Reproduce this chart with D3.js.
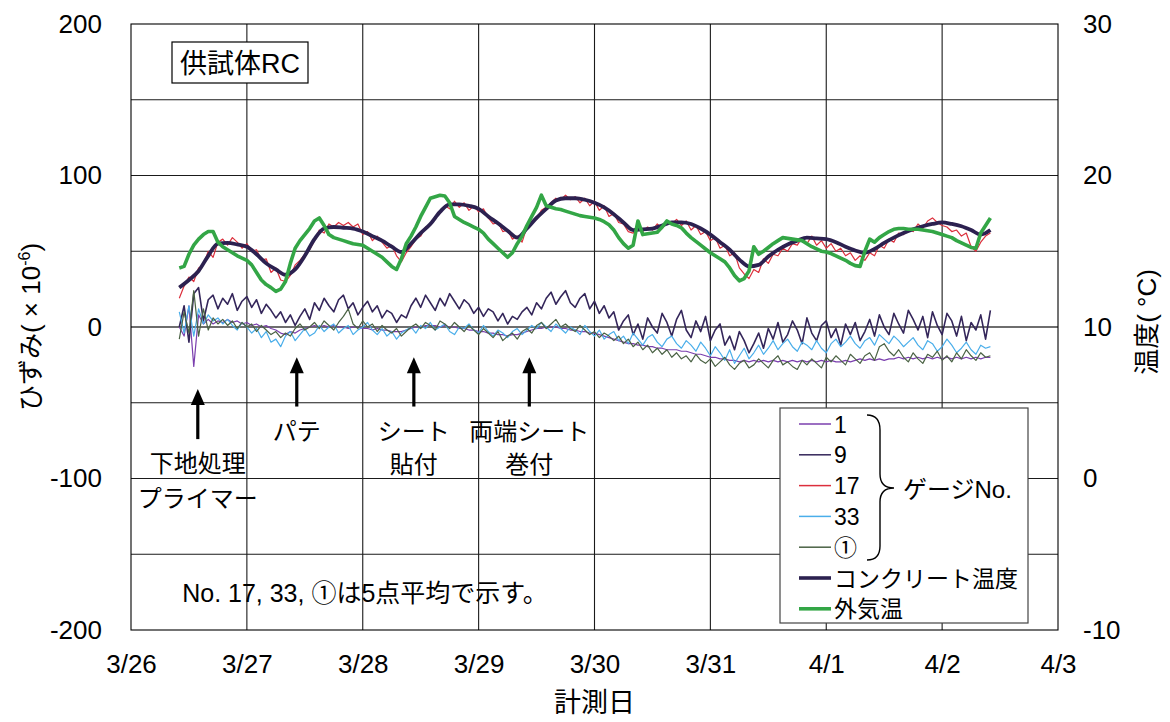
<!DOCTYPE html>
<html><head><meta charset="utf-8">
<script src="https://cdn.jsdelivr.net/npm/d3@7"></script>
<style>
body{margin:0;background:#fff;}
svg{display:block;font-family:"Liberation Sans",Arial,"Noto Sans CJK JP",sans-serif;}
</style></head><body>
<svg id="c" width="1170" height="722"></svg>
<script>
// ---------------- DATA ----------------
// strain gauges: hourly readings starting 3/26 10:00 (x10^-6)
const strainStart = new Date(2011, 2, 26, 10, 0);
const strainStepHours = 1;
const gauge1 = [0,-6,14,-26,8,2,5,2,4,3, 5,3,4,2,3,1,2,0,1,-1, -2,-4,-5,-3,-4,-2,-1,0,1,0,
 1,0,1,0,0,-1,0,0,-1,-1, -2,-1,-2,-2,-3,-3,-3,-2,-1,0, 0,1,1,1,0,1,0,0,-1,-1,
 -2,-2,-3,-3,-4,-4,-5,-5,-6,-5, -5,-4,-3,-2,-1,-1,0,0,0,-1, -1,-2,-2,-3,-3,-4,-4,-5,-6,-7,
 -8,-9,-10,-11,-11,-12,-12,-13,-13,-14, -14,-15,-15,-15,-16,-16,-17,-18,-18,-19,
 -20,-20,-21,-21,-22,-22,-23,-22,-23,-22, -23,-22,-23,-22,-23,-22,-23,-22,-23,-22,
 -23,-22,-23,-22,-23,-22,-23,-23,-22,-23, -22,-21,-22,-21,-22,-21,-22,-21,-21,-20,
 -21,-20,-21,-20,-21,-20,-21,-20,-21,-20, -21,-20,-21,-20,-21,-20,-21,-20,-20];
const gauge9 = [0,14,-10,22,26,4,18,21,12,19, 15,22,11,17,20,13,18,9,15,11, 6,10,3,8,1,7,12,5,16,11,
 19,14,10,18,21,12,16,8,13,17, 10,14,6,11,9,3,8,6,14,19, 13,21,16,11,19,14,22,17,12,18,
 15,9,13,7,12,10,4,9,2,7, 5,10,13,8,16,12,19,23,15,20, 24,16,13,19,22,12,17,9,14,6,
 10,-2,4,8,-5,2,-8,6,0,-4, 9,3,-6,5,11,-2,-7,4,-3,7, -9,-2,2,-12,-6,-15,-3,-9,-17,-11,
 -4,-14,-1,-8,3,-10,-5,4,-2,-11, 6,-4,-9,1,4,-7,-1,-12,2,-5, 3,-9,-3,5,-6,8,0,-5,9,2,
 -4,11,5,-2,7,-7,10,1,-5,9, 4,-6,7,-9,3,-2,8,-8,11];
const gauge17 = [19,27,33,30,39,41,50,46,56,58, 54,59,56,52,55,50,51,44,45,36, 39,31,30,34,41,44,48,51,57,64,
 62,68,66,69,67,69,66,68,61,63, 57,60,56,52,54,47,43,49,53,58, 60,66,67,73,75,80,78,83,79,82,
 77,80,76,78,72,68,69,63,64,58, 60,56,66,70,71,77,79,82,85,84, 87,84,86,82,85,80,83,77,80,73,
 75,69,68,63,62,66,63,66,64,68, 65,69,68,71,67,70,64,67,61,63, 57,59,52,54,47,49,39,35,32,38,
 36,45,42,48,47,52,50,55,54,59, 55,60,54,57,52,55,50,52,47,49, 44,47,44,49,47,54,52,58,56,62,
 61,65,63,68,65,70,72,69,67,66, 63,64,60,62,53,50,56,60,62];
const gauge33 = [10,-4,14,-6,12,2,8,4,6,2, 5,1,-2,3,0,-4,-1,-7,-3,-10, -8,-13,-6,-3,-9,-5,-1,-6,-4,1,
 -3,0,2,-4,-1,1,-5,-2,0,3, -2,-5,-1,-6,-3,-8,-4,-2,0,-4, 1,-1,3,-2,0,2,-3,-5,0,-1,
 2,-2,-4,1,-3,-6,-2,-4,-7,-3, -1,-5,-2,1,-1,3,0,-3,2,-1, -4,0,-2,-5,1,-3,-6,-2,-8,-5,
 -3,-9,-6,-11,-4,-8,-12,-7,-5,-10, -13,-8,-6,-11,-14,-9,-12,-16,-10,-14, -19,-13,-17,-22,-15,-24,-19,-14,-21,-17,
 -12,-18,-14,-9,-15,-11,-8,-13,-16,-10, -12,-15,-9,-14,-17,-11,-8,-13,-10,-6, -11,-14,-9,-7,-12,-5,-8,-11,-6,-9,
 -13,-10,-7,-12,-15,-9,-11,-16,-13,-8, -12,-17,-14,-10,-15,-18,-12,-14,-13];
const gaugeC1 = [-8,10,-4,24,-6,12,-2,6,2,5, 1,4,-1,3,0,2,-3,1,-2,-5, -3,-7,-4,-6,-1,2,-2,0,3,-1,
 4,1,-2,3,7,12,2,-1,4,0, 2,-3,1,-2,-4,-1,-6,-3,0,2, -1,3,1,-2,4,2,-1,3,0,-3,
 1,-2,-5,-1,-4,-7,-3,-9,-6,-4, -8,-3,-1,-4,1,3,-1,2,5,0, 2,-1,-3,1,-2,-5,-3,-7,-4,-6,
 -9,-6,-11,-8,-13,-10,-15,-12,-17,-14, -18,-15,-20,-17,-21,-19,-23,-18,-22,-24, -21,-26,-23,-20,-25,-28,-24,-22,-27,-25,
 -21,-24,-27,-22,-19,-25,-23,-26,-28,-22, -25,-21,-24,-27,-20,-23,-19,-22,-25,-18, -21,-24,-19,-17,-22,-13,-11,-16,-19,-15,
 -20,-23,-17,-21,-24,-18,-20,-16,-22,-19, -23,-17,-21,-15,-19,-22,-17,-20,-19];
// outside air temperature, hourly from 3/26 10:00 (°C)
const airTemp = [13.9,14.0,14.8,15.4,15.8,16.1,16.3,16.3,15.6,15.3, 15.1,14.9,14.7,14.55,14.4,14.1,13.6,13.1,12.8,12.6,
 12.35,12.5,13.0,14.2,15.2,15.7,16.1,16.5,17.0,17.2, 16.7,16.1,15.9,15.8,15.7,15.6,15.5,15.45,15.4,15.2,
 15.0,14.8,14.6,14.3,14.0,13.8,14.5,15.5,16.0,16.6, 17.3,17.9,18.5,18.6,18.7,18.65,18.2,17.3,17.1,16.9,
 16.75,16.6,16.45,16.2,15.8,15.5,15.2,14.9,14.6,14.9, 15.5,16.0,16.7,17.3,17.9,18.7,18.0,17.9,17.8,17.75,
 17.65,17.55,17.45,17.35,17.3,17.25,17.2,17.1,16.95,16.75, 16.4,15.9,15.5,15.2,15.4,17.0,16.1,16.15,16.2,16.25,
 16.6,17.0,16.8,16.7,16.55,16.2,15.9,15.65,15.4,15.15, 14.9,14.7,14.5,14.3,13.9,13.4,13.05,13.2,13.7,15.3,
 14.8,15.0,15.25,15.5,15.7,15.9,15.85,15.8,15.75,15.7, 15.5,15.3,15.15,15.0,14.95,14.85,14.7,14.55,14.4,14.2,
 14.05,14.0,15.0,15.8,15.6,15.9,16.1,16.3,16.45,16.5, 16.5,16.45,16.45,16.45,16.4,16.35,16.3,16.2,16.1,16.0,
 15.9,15.7,15.55,15.4,15.25,15.2,16.2,16.7,17.2];
// concrete temperature, every 2 hours from 3/26 10:00 (°C)
const concreteStepHours = 2;
const concreteTemp = [12.6,13.1,13.7,14.7,15.5,15.55,15.45,15.3,14.8,14.2, 13.8,13.45,13.8,14.7,15.8,16.5,16.6,16.55,16.5,16.3,
 16.0,15.7,15.3,14.95,15.5,16.2,16.8,17.6,18.1,18.1, 18.0,17.8,17.3,16.85,16.35,15.9,16.5,17.2,17.8,18.35,
 18.5,18.5,18.4,18.2,17.9,17.45,16.9,16.4,16.45,16.5, 16.7,16.9,16.9,16.8,16.5,16.1,15.6,15.1,14.45,14.0,
 14.1,14.65,15.1,15.45,15.7,15.9,15.85,15.8,15.6,15.3, 15.05,14.9,15.15,15.55,15.9,16.2,16.45,16.65,16.8,16.9,
 16.8,16.65,16.4,16.1,16.4];

const dayTicks = [[2011,2,26],[2011,2,27],[2011,2,28],[2011,2,29],[2011,2,30],[2011,2,31],[2011,3,1],[2011,3,2],[2011,3,3]];
const strainTicks = [-200,-100,0,100,200];
const strainGrid = [-150,-100,-50,0,50,100,150];
const tempTicks = [-10,0,10,20,30];

const seriesInfo = [
  {name:"1",  values:gauge1,  color:"#7b3fae", width:1.2},
  {name:"9",  values:gauge9,  color:"#34265a", width:1.6},
  {name:"17", values:gauge17, color:"#dc2f3c", width:1.2},
  {name:"33", values:gauge33, color:"#4aaeea", width:1.2},
  {name:"①", values:gaugeC1, color:"#4a6244", width:1.2}
];
const annotations = [
  {when:[2011,2,26,13,50], tip:-41, tail:-74, lines:["下地処理","プライマー"], base:[-95.5,-118.5]},
  {when:[2011,2,27,10,20], tip:-20, tail:-52.5, lines:["パテ"], base:[-74.5]},
  {when:[2011,2,28,10,35], tip:-20, tail:-52.5, lines:["シート","貼付"], base:[-74.5,-96.5]},
  {when:[2011,2,29,10,30], tip:-20, tail:-52.5, lines:["両端シート","巻付"], base:[-74.5,-96.5]}
];

// ---------------- CHART ----------------
const svg = d3.select("#c");
const M = {left:131, right:1058, top:24, bottom:630};
const days = dayTicks.map(d => new Date(d[0], d[1], d[2]));
const x = d3.scaleTime().domain([days[0], days[days.length-1]]).range([M.left, M.right]);
const yL = d3.scaleLinear().domain([-200,200]).range([M.bottom, M.top]);
const yR = d3.scaleLinear().domain([-10,30]).range([M.bottom, M.top]);

const g = svg.append("g");
g.selectAll("line.h").data(strainGrid).join("line")
  .attr("x1", M.left).attr("x2", M.right)
  .attr("y1", d => yL(d)).attr("y2", d => yL(d))
  .attr("stroke", d => d === 0 ? "#6e6e6e" : "#1a1a1a")
  .attr("stroke-width", d => d === 0 ? 2.2 : 1.1);
g.selectAll("line.v").data(days.slice(1, -1)).join("line")
  .attr("x1", d => x(d)).attr("x2", d => x(d))
  .attr("y1", M.top).attr("y2", M.bottom)
  .attr("stroke", "#1a1a1a").attr("stroke-width", 1.1);
g.append("rect").attr("x", M.left).attr("y", M.top)
  .attr("width", M.right - M.left).attr("height", M.bottom - M.top)
  .attr("fill", "none").attr("stroke", "#000").attr("stroke-width", 1.1);

// axes
const fs = "26px";
const plain = d => String(d);
const ax1 = svg.append("g").attr("transform", `translate(${M.left},0)`)
  .call(d3.axisLeft(yL).tickValues(strainTicks).tickSize(0).tickPadding(29).tickFormat(plain));
const ax2 = svg.append("g").attr("transform", `translate(${M.right},0)`)
  .call(d3.axisRight(yR).tickValues(tempTicks).tickSize(0).tickPadding(25).tickFormat(plain));
const ax3 = svg.append("g").attr("transform", `translate(0,${M.bottom})`)
  .call(d3.axisBottom(x).tickValues(days).tickSize(0).tickPadding(25).tickFormat(d3.timeFormat("%-m/%-d")));
[ax1, ax2, ax3].forEach(a => {
  a.select(".domain").remove();
  a.selectAll("text").attr("font-size", fs).attr("fill", "#000")
    .attr("font-family", '"Liberation Sans",Arial,sans-serif');
});

// axis titles
const lt = svg.append("text").attr("transform", "translate(40,327) rotate(-90)")
  .attr("text-anchor", "middle").attr("font-size", "26px");
lt.append("tspan").text("ひずみ( × 10");
lt.append("tspan").attr("font-size", "16px").attr("dy", "-10").text("-6");
lt.append("tspan").attr("dy", "10").text(")");
svg.append("text").attr("transform", "translate(1156,322) rotate(-90)")
  .attr("text-anchor", "middle").attr("font-size", "26px").text("温度( °C)");
svg.append("text").attr("x", (M.left + M.right) / 2).attr("y", 712)
  .attr("text-anchor", "middle").attr("font-size", "27px").text("計測日");

// data lines
const tS = i => d3.timeHour.offset(strainStart, i * strainStepHours);
const tC = i => d3.timeHour.offset(strainStart, i * concreteStepHours);
const lineL = d3.line().x((d, i) => x(tS(i))).y(d => yL(d));
seriesInfo.forEach(s => {
  svg.append("path").attr("d", lineL(s.values)).attr("fill", "none")
    .attr("stroke", s.color).attr("stroke-width", s.width).attr("stroke-linejoin", "round");
});
svg.append("path").attr("d", d3.line().x((d, i) => x(tC(i))).y(d => yR(d)).curve(d3.curveMonotoneX)(concreteTemp))
  .attr("fill", "none").attr("stroke", "#2c2150").attr("stroke-width", 3.8).attr("stroke-linejoin", "round");
svg.append("path").attr("d", d3.line().x((d, i) => x(tS(i))).y(d => yR(d))(airTemp))
  .attr("fill", "none").attr("stroke", "#33a646").attr("stroke-width", 3.6).attr("stroke-linejoin", "round");

// title box
svg.append("rect").attr("x", 172).attr("y", 42).attr("width", 136).attr("height", 41)
  .attr("fill", "#fff").attr("stroke", "#000").attr("stroke-width", 1.2);
svg.append("text").attr("x", 240).attr("y", 73).attr("text-anchor", "middle")
  .attr("font-size", "27px").text("供試体RC");

// annotations
annotations.forEach(a => {
  const ax = x(new Date(...a.when));
  const tip = yL(a.tip), tail = yL(a.tail);
  svg.append("line").attr("x1", ax).attr("x2", ax).attr("y1", tip + 12).attr("y2", tail)
    .attr("stroke", "#000").attr("stroke-width", 3.2);
  svg.append("path").attr("d", `M${ax},${tip} L${ax - 7},${tip + 16} L${ax + 7},${tip + 16} Z`).attr("fill", "#000");
  a.lines.forEach((t, k) => {
    svg.append("text").attr("x", ax).attr("y", yL(a.base[k])).attr("text-anchor", "middle")
      .attr("font-size", "24px").text(t);
  });
});
svg.append("text").attr("x", 365).attr("y", 602).attr("text-anchor", "middle")
  .attr("font-size", "25px").text("No. 17, 33, ①は5点平均で示す。");

// legend
const lg = svg.append("g");
lg.append("rect").attr("x", 780).attr("y", 408).attr("width", 248).attr("height", 215)
  .attr("fill", "#fff").attr("stroke", "#444").attr("stroke-width", 1.2);
const legendItems = seriesInfo.map(s => ({label:s.name, color:s.color, width:1.5}))
  .concat([{label:"コンクリート温度", color:"#2c2150", width:3.6}, {label:"外気温", color:"#33a646", width:3.6}]);
legendItems.forEach((d, i) => {
  const yy = 424 + i * 30.8;
  lg.append("line").attr("x1", 799).attr("x2", 831).attr("y1", yy).attr("y2", yy)
    .attr("stroke", d.color).attr("stroke-width", d.width);
  lg.append("text").attr("x", 834).attr("y", yy + 8.5).attr("font-size", "23px").text(d.label);
});
lg.append("path").attr("d", "M867,415 Q880,415 880,430 L880,474 Q880,488 894,488 Q880,488 880,502 L880,546 Q880,560 867,560")
  .attr("fill", "none").attr("stroke", "#000").attr("stroke-width", 1.4);
lg.append("text").attr("x", 903).attr("y", 498).attr("font-size", "24px").text("ゲージNo.");
</script>
</body></html>
